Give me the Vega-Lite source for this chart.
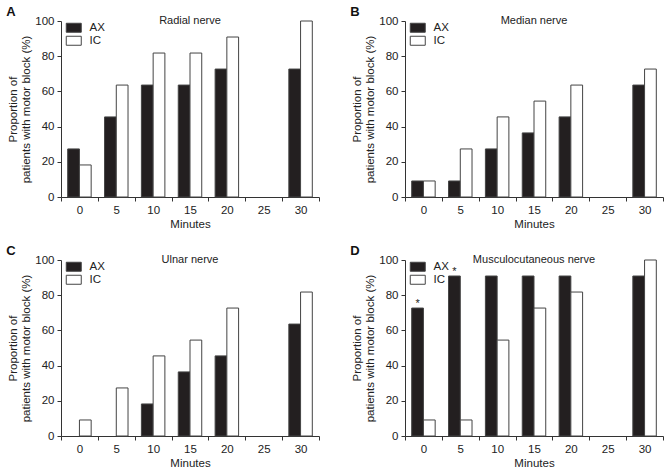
{
  "$schema": "https://vega.github.io/schema/vega-lite/v6.json",
  "padding": {"left": 6, "top": 6, "right": 2, "bottom": 0},
  "config": {
    "font": "Liberation Sans",
    "view": {"stroke": null},
    "axis": {"labelFontSize": 11.5, "titleFontSize": 11.5, "titleFontWeight": "normal", "domainColor": "#333", "tickColor": "#333", "labelColor": "#222", "titleColor": "#222", "tickSize": 4, "grid": false, "labelPadding": 3, "titlePadding": 3, "labelOverlap": false},
    "title": {"fontSize": 13, "fontWeight": "bold", "anchor": "start", "offset": -4, "dx": -1, "color": "#111"},
    "legend": {"orient": "none", "legendX": 7, "legendY": 1, "padding": 0, "symbolType": "M-1.5,-0.9H1.5V0.9H-1.5Z", "symbolSize": 100, "symbolStrokeColor": "#444", "symbolStrokeWidth": 1, "labelFontSize": 11.5, "labelColor": "#222", "labelOffset": 10, "rowPadding": -4, "title": null}
  },
  "datasets": {
    "bars": [
      {"panel": "A", "minute": 0, "group": "AX", "value": 27.3, "sig": ""},
      {"panel": "A", "minute": 0, "group": "IC", "value": 18.2, "sig": ""},
      {"panel": "A", "minute": 5, "group": "AX", "value": 45.5, "sig": ""},
      {"panel": "A", "minute": 5, "group": "IC", "value": 63.6, "sig": ""},
      {"panel": "A", "minute": 10, "group": "AX", "value": 63.6, "sig": ""},
      {"panel": "A", "minute": 10, "group": "IC", "value": 81.8, "sig": ""},
      {"panel": "A", "minute": 15, "group": "AX", "value": 63.6, "sig": ""},
      {"panel": "A", "minute": 15, "group": "IC", "value": 81.8, "sig": ""},
      {"panel": "A", "minute": 20, "group": "AX", "value": 72.7, "sig": ""},
      {"panel": "A", "minute": 20, "group": "IC", "value": 90.9, "sig": ""},
      {"panel": "A", "minute": 30, "group": "AX", "value": 72.7, "sig": ""},
      {"panel": "A", "minute": 30, "group": "IC", "value": 100, "sig": ""},
      {"panel": "B", "minute": 0, "group": "AX", "value": 9.1, "sig": ""},
      {"panel": "B", "minute": 0, "group": "IC", "value": 9.1, "sig": ""},
      {"panel": "B", "minute": 5, "group": "AX", "value": 9.1, "sig": ""},
      {"panel": "B", "minute": 5, "group": "IC", "value": 27.3, "sig": ""},
      {"panel": "B", "minute": 10, "group": "AX", "value": 27.3, "sig": ""},
      {"panel": "B", "minute": 10, "group": "IC", "value": 45.5, "sig": ""},
      {"panel": "B", "minute": 15, "group": "AX", "value": 36.4, "sig": ""},
      {"panel": "B", "minute": 15, "group": "IC", "value": 54.5, "sig": ""},
      {"panel": "B", "minute": 20, "group": "AX", "value": 45.5, "sig": ""},
      {"panel": "B", "minute": 20, "group": "IC", "value": 63.6, "sig": ""},
      {"panel": "B", "minute": 30, "group": "AX", "value": 63.6, "sig": ""},
      {"panel": "B", "minute": 30, "group": "IC", "value": 72.7, "sig": ""},
      {"panel": "C", "minute": 0, "group": "IC", "value": 9.1, "sig": ""},
      {"panel": "C", "minute": 5, "group": "IC", "value": 27.3, "sig": ""},
      {"panel": "C", "minute": 10, "group": "AX", "value": 18.2, "sig": ""},
      {"panel": "C", "minute": 10, "group": "IC", "value": 45.5, "sig": ""},
      {"panel": "C", "minute": 15, "group": "AX", "value": 36.4, "sig": ""},
      {"panel": "C", "minute": 15, "group": "IC", "value": 54.5, "sig": ""},
      {"panel": "C", "minute": 20, "group": "AX", "value": 45.5, "sig": ""},
      {"panel": "C", "minute": 20, "group": "IC", "value": 72.7, "sig": ""},
      {"panel": "C", "minute": 30, "group": "AX", "value": 63.6, "sig": ""},
      {"panel": "C", "minute": 30, "group": "IC", "value": 81.8, "sig": ""},
      {"panel": "D", "minute": 0, "group": "AX", "value": 72.7, "sig": "*"},
      {"panel": "D", "minute": 0, "group": "IC", "value": 9.1, "sig": ""},
      {"panel": "D", "minute": 5, "group": "AX", "value": 90.9, "sig": "*"},
      {"panel": "D", "minute": 5, "group": "IC", "value": 9.1, "sig": ""},
      {"panel": "D", "minute": 10, "group": "AX", "value": 90.9, "sig": ""},
      {"panel": "D", "minute": 10, "group": "IC", "value": 54.5, "sig": ""},
      {"panel": "D", "minute": 15, "group": "AX", "value": 90.9, "sig": ""},
      {"panel": "D", "minute": 15, "group": "IC", "value": 72.7, "sig": ""},
      {"panel": "D", "minute": 20, "group": "AX", "value": 90.9, "sig": ""},
      {"panel": "D", "minute": 20, "group": "IC", "value": 81.8, "sig": ""},
      {"panel": "D", "minute": 30, "group": "AX", "value": 90.9, "sig": ""},
      {"panel": "D", "minute": 30, "group": "IC", "value": 100, "sig": ""}
    ],
    "names": [
      {"panel": "A", "name": "Radial nerve"},
      {"panel": "B", "name": "Median nerve"},
      {"panel": "C", "name": "Ulnar nerve"},
      {"panel": "D", "name": "Musculocutaneous nerve"}
    ]
  },
  "columns": 2,
  "spacing": {"row": 15, "column": 30},
  "resolve": {"legend": {"fill": "independent"}},
  "concat": [
    {
      "title": {"text": "A"},
      "width": 258, "height": 176,
      "layer": [
        {
          "data": {"name": "bars"},
          "transform": [{"filter": "datum.panel === 'A'"}],
          "mark": {"type": "bar", "stroke": "#444", "strokeWidth": 1},
          "encoding": {
            "x": {"field": "minute", "type": "ordinal", "scale": {"domain": [0, 5, 10, 15, 20, 25, 30], "paddingInner": 0, "paddingOuter": 0}, "axis": {"title": "Minutes", "labelAngle": 0, "tickBand": "extent"}},
            "xOffset": {"field": "group", "type": "nominal", "scale": {"domain": ["AX", "IC"], "paddingInner": 0, "paddingOuter": 0.57}},
            "y": {"field": "value", "type": "quantitative", "scale": {"domain": [0, 100]}, "axis": {"title": ["Proportion of", "patients with motor block (%)"], "values": [0, 20, 40, 60, 80, 100]}},
            "fill": {"field": "group", "type": "nominal", "scale": {"domain": ["AX", "IC"], "range": ["#231f20", "#ffffff"]}}
          }
        },
        {
          "data": {"name": "names"},
          "transform": [{"filter": "datum.panel === 'A'"}],
          "mark": {"type": "text", "fontSize": 11, "baseline": "middle", "color": "#222"},
          "encoding": {
            "x": {"datum": 15, "type": "ordinal", "axis": {"title": "Minutes", "labelAngle": 0, "tickBand": "extent"}},
            "y": {"datum": 100, "type": "quantitative", "axis": {"title": ["Proportion of", "patients with motor block (%)"], "values": [0, 20, 40, 60, 80, 100]}},
            "text": {"field": "name"}
          }
        }
      ]
    },
    {
      "title": {"text": "B"},
      "width": 258, "height": 176,
      "layer": [
        {
          "data": {"name": "bars"},
          "transform": [{"filter": "datum.panel === 'B'"}],
          "mark": {"type": "bar", "stroke": "#444", "strokeWidth": 1},
          "encoding": {
            "x": {"field": "minute", "type": "ordinal", "scale": {"domain": [0, 5, 10, 15, 20, 25, 30], "paddingInner": 0, "paddingOuter": 0}, "axis": {"title": "Minutes", "labelAngle": 0, "tickBand": "extent"}},
            "xOffset": {"field": "group", "type": "nominal", "scale": {"domain": ["AX", "IC"], "paddingInner": 0, "paddingOuter": 0.57}},
            "y": {"field": "value", "type": "quantitative", "scale": {"domain": [0, 100]}, "axis": {"title": ["Proportion of", "patients with motor block (%)"], "values": [0, 20, 40, 60, 80, 100]}},
            "fill": {"field": "group", "type": "nominal", "scale": {"domain": ["AX", "IC"], "range": ["#231f20", "#ffffff"]}}
          }
        },
        {
          "data": {"name": "names"},
          "transform": [{"filter": "datum.panel === 'B'"}],
          "mark": {"type": "text", "fontSize": 11, "baseline": "middle", "color": "#222"},
          "encoding": {
            "x": {"datum": 15, "type": "ordinal", "axis": {"title": "Minutes", "labelAngle": 0, "tickBand": "extent"}},
            "y": {"datum": 100, "type": "quantitative", "axis": {"title": ["Proportion of", "patients with motor block (%)"], "values": [0, 20, 40, 60, 80, 100]}},
            "text": {"field": "name"}
          }
        }
      ]
    },
    {
      "title": {"text": "C"},
      "width": 258, "height": 176,
      "layer": [
        {
          "data": {"name": "bars"},
          "transform": [{"filter": "datum.panel === 'C'"}],
          "mark": {"type": "bar", "stroke": "#444", "strokeWidth": 1},
          "encoding": {
            "x": {"field": "minute", "type": "ordinal", "scale": {"domain": [0, 5, 10, 15, 20, 25, 30], "paddingInner": 0, "paddingOuter": 0}, "axis": {"title": "Minutes", "labelAngle": 0, "tickBand": "extent"}},
            "xOffset": {"field": "group", "type": "nominal", "scale": {"domain": ["AX", "IC"], "paddingInner": 0, "paddingOuter": 0.57}},
            "y": {"field": "value", "type": "quantitative", "scale": {"domain": [0, 100]}, "axis": {"title": ["Proportion of", "patients with motor block (%)"], "values": [0, 20, 40, 60, 80, 100]}},
            "fill": {"field": "group", "type": "nominal", "scale": {"domain": ["AX", "IC"], "range": ["#231f20", "#ffffff"]}}
          }
        },
        {
          "data": {"name": "names"},
          "transform": [{"filter": "datum.panel === 'C'"}],
          "mark": {"type": "text", "fontSize": 11, "baseline": "middle", "color": "#222"},
          "encoding": {
            "x": {"datum": 15, "type": "ordinal", "axis": {"title": "Minutes", "labelAngle": 0, "tickBand": "extent"}},
            "y": {"datum": 100, "type": "quantitative", "axis": {"title": ["Proportion of", "patients with motor block (%)"], "values": [0, 20, 40, 60, 80, 100]}},
            "text": {"field": "name"}
          }
        }
      ]
    },
    {
      "title": {"text": "D"},
      "width": 258, "height": 176,
      "layer": [
        {
          "data": {"name": "bars"},
          "transform": [{"filter": "datum.panel === 'D'"}],
          "mark": {"type": "bar", "stroke": "#444", "strokeWidth": 1},
          "encoding": {
            "x": {"field": "minute", "type": "ordinal", "scale": {"domain": [0, 5, 10, 15, 20, 25, 30], "paddingInner": 0, "paddingOuter": 0}, "axis": {"title": "Minutes", "labelAngle": 0, "tickBand": "extent"}},
            "xOffset": {"field": "group", "type": "nominal", "scale": {"domain": ["AX", "IC"], "paddingInner": 0, "paddingOuter": 0.57}},
            "y": {"field": "value", "type": "quantitative", "scale": {"domain": [0, 100]}, "axis": {"title": ["Proportion of", "patients with motor block (%)"], "values": [0, 20, 40, 60, 80, 100]}},
            "fill": {"field": "group", "type": "nominal", "scale": {"domain": ["AX", "IC"], "range": ["#231f20", "#ffffff"]}}
          }
        },
        {
          "data": {"name": "bars"},
          "transform": [{"filter": "datum.panel === 'D' && datum.sig !== ''"}],
          "mark": {"type": "text", "fontSize": 11, "baseline": "bottom", "dy": 1, "color": "#222"},
          "encoding": {
            "x": {"field": "minute", "type": "ordinal", "axis": {"title": "Minutes", "labelAngle": 0, "tickBand": "extent"}},
            "xOffset": {"field": "group", "type": "nominal"},
            "y": {"field": "value", "type": "quantitative", "axis": {"title": ["Proportion of", "patients with motor block (%)"], "values": [0, 20, 40, 60, 80, 100]}},
            "text": {"field": "sig"}
          }
        },
        {
          "data": {"name": "names"},
          "transform": [{"filter": "datum.panel === 'D'"}],
          "mark": {"type": "text", "fontSize": 11, "baseline": "middle", "color": "#222"},
          "encoding": {
            "x": {"datum": 15, "type": "ordinal", "axis": {"title": "Minutes", "labelAngle": 0, "tickBand": "extent"}},
            "y": {"datum": 100, "type": "quantitative", "axis": {"title": ["Proportion of", "patients with motor block (%)"], "values": [0, 20, 40, 60, 80, 100]}},
            "text": {"field": "name"}
          }
        }
      ]
    }
  ]
}
